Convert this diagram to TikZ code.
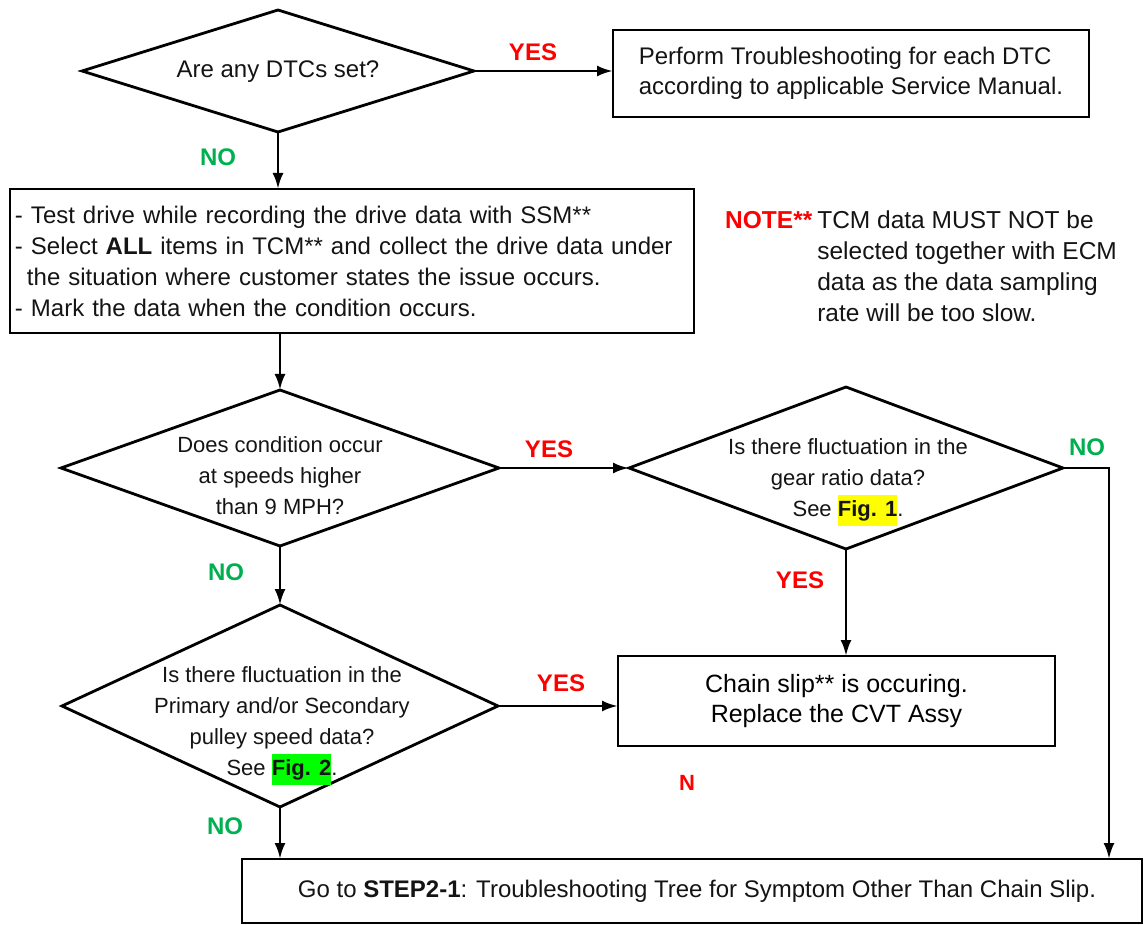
\documentclass[tikz,border=0pt]{standalone}
\usepackage{fontspec}
\setmainfont{Liberation Sans}
\usetikzlibrary{arrows.meta,shapes.geometric}
\definecolor{nogreen}{RGB}{0,176,80}
\definecolor{yesred}{RGB}{255,0,0}
\definecolor{hlyellow}{RGB}{255,255,0}
\definecolor{hlgreen}{RGB}{0,255,0}
\definecolor{txtc}{RGB}{20,20,20}
\newcommand\myfs[2]{\fontsize{#1}{#2}\selectfont}
\newcommand\hlbox[2]{{\setlength{\fboxsep}{0pt}\colorbox{#1}{\strut\bfseries #2}}}
\tikzset{
  conn/.style={line width=2.8pt},
  arr/.style={conn, -{Latex[length=16pt,width=11pt]}},
  dia/.style={draw, line width=2.8pt, shape=diamond, inner sep=0pt, outer sep=0pt},
  boxn/.style={draw, line width=2.8pt, rectangle, outer sep=0pt},
  qtxt/.style={align=center, text=txtc, inner sep=0pt, font=\myfs{22}{31}},
  yeslbl/.style={text=yesred, inner sep=0pt, font=\myfs{24}{29}\bfseries},
  nolbl/.style={text=nogreen, inner sep=0pt, font=\myfs{24}{29}\bfseries},
}
\begin{document}
\begin{tikzpicture}[x=1pt,y=-1pt]
\useasboundingbox (0,0) rectangle (1144,925);

% decisions
\node[dia, minimum width=392pt, minimum height=122pt] (d1) at (278,71) {};
\node[qtxt, font=\myfs{24}{30}] (d1t) at (278,72) {Are any DTCs set?};

\node[dia, minimum width=438pt, minimum height=156pt] (d2) at (280,468) {};
\node[qtxt] (d2t) at (280,476) {Does condition occur\\at speeds higher\\than 9 MPH?};

\node[dia, minimum width=434pt, minimum height=162pt] (d3) at (846,468) {};
\node[qtxt] (d3t) at (848,482) {Is there fluctuation in the\\gear ratio data?\\See \hlbox{hlyellow}{Fig. 1}.};

\node[dia, minimum width=436pt, minimum height=202pt] (d4) at (280,706) {};
\node[qtxt] (d4t) at (282,726) {Is there fluctuation in the\\Primary and/or Secondary\\pulley speed data?\\See \hlbox{hlgreen}{Fig. 2}.};

% boxes
\node[boxn, minimum width=476pt, minimum height=87pt, align=left, text=txtc, font=\myfs{24}{30}] (perf) at (851,73.5)
  {Perform Troubleshooting for each DTC\\according to applicable Service Manual.};

\node[boxn, minimum height=144pt, text width=674pt, inner xsep=5pt, inner ysep=0pt, align=left, text=txtc, font=\myfs{24}{31}] (test) at (352,261)
  {- Test drive while recording the drive data with SSM**\\
   - Select \textbf{ALL} items in TCM** and collect the drive data under\\
   \hspace*{0.5em}the situation where customer states the issue occurs.\\
   - Mark the data when the condition occurs.};

\node[draw, line width=1.6pt, outer sep=0pt, minimum width=437pt, minimum height=90pt, align=center, text=black, font=\myfs{25}{30}] (chain) at (836.5,701)
  {Chain slip** is occuring.\\Replace the CVT Assy};

\node[boxn, minimum width=900pt, minimum height=64pt, text=txtc, font=\myfs{24}{30}] (final) at (692,891)
  {\hspace*{10pt}Go to \textbf{STEP2-1}: Troubleshooting Tree for Symptom Other Than Chain Slip.};

% note
\node[anchor=north west, inner sep=0pt, text=txtc, font=\myfs{24.5}{31}] (note) at (725,207)
  {\begin{tabular}{@{}l@{\hspace{5pt}}l@{}}
   \textcolor{yesred}{\bfseries NOTE**} & TCM data MUST NOT be\\
    & selected together with ECM\\
    & data as the data sampling\\
    & rate will be too slow.
   \end{tabular}};

% labels
\node[yeslbl] (y1) at (533,52) {YES};
\node[nolbl] (n1) at (218,157) {NO};
\node[yeslbl] (y2) at (549,449) {YES};
\node[nolbl] (n2) at (226,572) {NO};
\node[nolbl] (n3) at (1087,447) {NO};
\node[yeslbl] (y3) at (800,580) {YES};
\node[yeslbl] (y4) at (561,683) {YES};
\node[nolbl] (n4) at (225,826) {NO};
\node[yeslbl, font=\myfs{22}{26}\bfseries] (nstray) at (687,783) {N};

% connectors
\coordinate (c3) at (1109,468);
\draw[arr] (d1.east) -- (d1.east -| perf.west);
\draw[arr] (d1.south) -- (d1.south |- test.north);
\draw[arr] (d2.north |- test.south) -- (d2.north);
\draw[arr] (d2.east) -- (d3.west);
\draw[arr] (d2.south) -- (d4.north);
\draw[arr] (d3.south) -- (d3.south |- chain.north);
\draw[arr] (d4.east) -- (d4.east -| chain.west);
\draw[arr] (d4.south) -- (d4.south |- final.north);
\draw[arr] (d3.east) -- (c3) -- (c3 |- final.north);
\end{tikzpicture}
\end{document}
